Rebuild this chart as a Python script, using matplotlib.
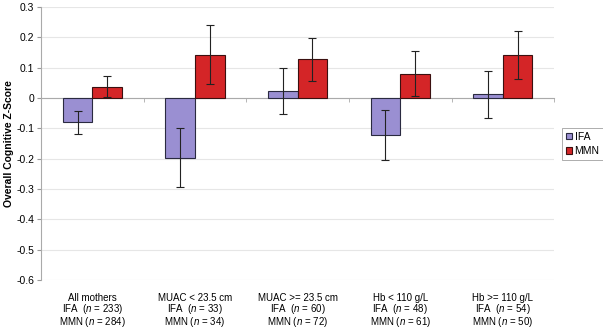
import matplotlib
matplotlib.use("Agg")
import matplotlib.pyplot as plt
import numpy as np
from matplotlib.transforms import blended_transform_factory

plt.rcParams['font.family'] = ['Liberation Sans', 'DejaVu Sans']
plt.rcParams['mathtext.fontset'] = 'custom'
plt.rcParams['mathtext.it'] = 'Liberation Sans:italic'
plt.rcParams['mathtext.rm'] = 'Liberation Sans'

categories = [
    "All mothers\nIFA  ($n$ = 233)\nMMN ($n$ = 284)",
    "MUAC < 23.5 cm\nIFA  ($n$ = 33)\nMMN ($n$ = 34)",
    "MUAC >= 23.5 cm\nIFA  ($n$ = 60)\nMMN ($n$ = 72)",
    "Hb < 110 g/L\nIFA  ($n$ = 48)\nMMN ($n$ = 61)",
    "Hb >= 110 g/L\nIFA  ($n$ = 54)\nMMN ($n$ = 50)",
]
ifa_values = [-0.080, -0.197, 0.022, -0.122, 0.012]
ifa_errors = [0.038, 0.097, 0.076, 0.081, 0.077]
mmn_values = [0.037, 0.143, 0.128, 0.080, 0.141]
mmn_errors = [0.035, 0.097, 0.071, 0.074, 0.080]
yticks = [0.3, 0.2, 0.1, 0, -0.1, -0.2, -0.3, -0.4, -0.5, -0.6]
ytick_labels = ["0.3", "0.2", "0.1", "0", "-0.1", "-0.2", "-0.3", "-0.4", "-0.5", "-0.6"]

ifa_color = "#9A8FD2"
mmn_color = "#D42527"

fig = plt.figure(figsize=(6.03, 3.30), dpi=100)
ax = fig.add_axes([0.068, 0.1515, 0.851, 0.8275])

x = np.arange(len(categories))
w = 0.288
ax.bar(x - w/2, ifa_values, w, color=ifa_color, edgecolor="#2a2a40", linewidth=0.8, label="IFA", zorder=3)
ax.bar(x + w/2, mmn_values, w, color=mmn_color, edgecolor="#3a1010", linewidth=0.8, label="MMN", zorder=3)
ax.errorbar(x - w/2, ifa_values, yerr=ifa_errors, fmt='none', ecolor='#222222', elinewidth=0.8, capsize=3, capthick=0.8, zorder=4)
ax.errorbar(x + w/2, mmn_values, yerr=mmn_errors, fmt='none', ecolor='#222222', elinewidth=0.8, capsize=3, capthick=0.8, zorder=4)

ax.set_xlim(-0.5, len(categories) - 0.5)
ax.set_ylim(-0.6, 0.3)
ax.set_yticks(yticks)
ax.set_yticklabels(ytick_labels, fontsize=7.5)
ax.grid(axis='y', color='#e6e6e6', linewidth=0.8, zorder=0)
ax.tick_params(axis='y', length=3, color='#999999', pad=2)

for s in ['top', 'right']:
    ax.spines[s].set_visible(False)
ax.spines['left'].set_color('#aaaaaa')
ax.spines['bottom'].set_position(('data', 0))
ax.spines['bottom'].set_color('#aaaaaa')
ax.set_xticks([])
ax.set_xticks(np.arange(len(categories) + 1) - 0.5, minor=True)
ax.tick_params(axis='x', which='minor', length=3, color='#aaaaaa', direction='out')

trans = blended_transform_factory(ax.transData, ax.transAxes)
for i, lab in enumerate(categories):
    ax.text(i, -0.048, lab, transform=trans, ha='center', va='top', fontsize=7, linespacing=0.9)

ax.set_ylabel("Overall Cognitive Z-Score", fontsize=7.5, fontweight='bold', labelpad=1.5)

leg = fig.legend(loc='upper left', bbox_to_anchor=(562/603, 1 - 128/330), bbox_transform=fig.transFigure,
                 fontsize=7.5, frameon=True, fancybox=False, edgecolor='#888888',
                 handlelength=0.6, handleheight=0.6, handletextpad=0.25, borderpad=0.35,
                 labelspacing=0.45, borderaxespad=0)
leg.get_frame().set_linewidth(0.6)

fig.savefig("out.png", dpi=100)
